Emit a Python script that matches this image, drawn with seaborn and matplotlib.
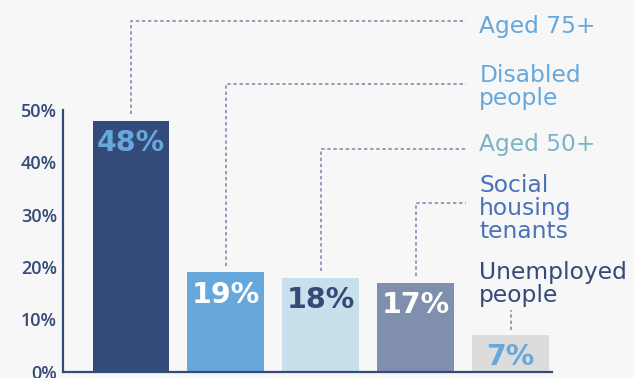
import matplotlib
matplotlib.use("Agg")
import matplotlib.pyplot as plt
import seaborn as sns
import pandas as pd

# ---- data ----
categories = ["Aged 75+", "Disabled people", "Aged 50+", "Social housing tenants", "Unemployed people"]
values = [48, 19, 18, 17, 7]
value_labels = ["48%", "19%", "18%", "17%", "7%"]
group_labels = ["Aged 75+", "Disabled\npeople", "Aged 50+", "Social\nhousing\ntenants", "Unemployed\npeople"]
y_ticks = [0, 10, 20, 30, 40, 50]
y_tick_labels = ["0%", "10%", "20%", "30%", "40%", "50%"]

# ---- styles ----
bar_colors = ["#344a78", "#66a8dc", "#c8e0ec", "#7f8fad", "#dcdcdc"]
value_colors = ["#66a8dc", "#ffffff", "#344a78", "#ffffff", "#66a8dc"]
label_colors = ["#66a8dc", "#66a8dc", "#7db3c8", "#4a72b8", "#344a78"]
navy = "#344a78"
leader_color = "#7786a8"
bg = "#f7f7f7"

# ---- layout (annotation positions in axis units) ----
leader_levels = [67.0, 54.9, 42.6, 32.3, 11.85]
label_baselines = [64.8, 50.9, 42.1, 25.6, 13.4]
label_x = 3.67
leader_end_x = 3.53
xlim = (-0.722, 4.436)

sns.set_style("white")
plt.rcParams["font.family"] = ["DejaVu Sans"]

fig = plt.figure(figsize=(6.34, 3.78), dpi=100)
fig.patch.set_facecolor(bg)
ax = fig.add_axes([0.0986, 0.0167, 0.772, 0.692])
ax.set_facecolor(bg)

df = pd.DataFrame({"group": categories, "share": values})
sns.barplot(data=df, x="group", y="share", hue="group", order=categories,
            hue_order=categories, palette=bar_colors, legend=False,
            width=0.81, saturation=1, ax=ax, linewidth=0)

ax.set_xlim(*xlim)
ax.set_ylim(0, 50)
ax.set_xlabel("")
ax.set_ylabel("")
ax.set_yticks(y_ticks)
ax.set_yticklabels(y_tick_labels, fontsize=13, fontweight="semibold",
                   family=["Open Sans", "DejaVu Sans"], color=navy)
ax.set_xticks([xlim[1]])
ax.set_xticklabels([""])
ax.tick_params(axis="both", direction="in", length=5, width=1.6, color=navy)
ax.tick_params(axis="y", pad=4)
for s in ["top", "right"]:
    ax.spines[s].set_visible(False)
for s in ["left", "bottom"]:
    ax.spines[s].set_color(navy)
    ax.spines[s].set_linewidth(1.6)
    ax.spines[s].set_capstyle("projecting")

for i, (v, t, c) in enumerate(zip(values, value_labels, value_colors)):
    ax.annotate(t, xy=(i, v), xytext=(0, -6), textcoords="offset points",
                ha="center", va="top", fontsize=20.5, fontweight="bold",
                color=c)

dash = (0, (2.2, 1.8))
for i, v in enumerate(values):
    lvl = leader_levels[i]
    if i < 4:
        ax.plot([i, i, leader_end_x], [v + 1.2, lvl, lvl], ls=dash, lw=1.1,
                color=leader_color, clip_on=False)
    else:
        ax.plot([i, i], [v + 1.0, lvl], ls=dash, lw=1.1, color=leader_color,
                clip_on=False)

for txt, yb, c in zip(group_labels, label_baselines, label_colors):
    ax.text(label_x, yb, txt, ha="left", va="baseline", fontsize=16.8,
            color=c, linespacing=1.0, clip_on=False)

fig.savefig("out.png", dpi=100, facecolor=bg)
